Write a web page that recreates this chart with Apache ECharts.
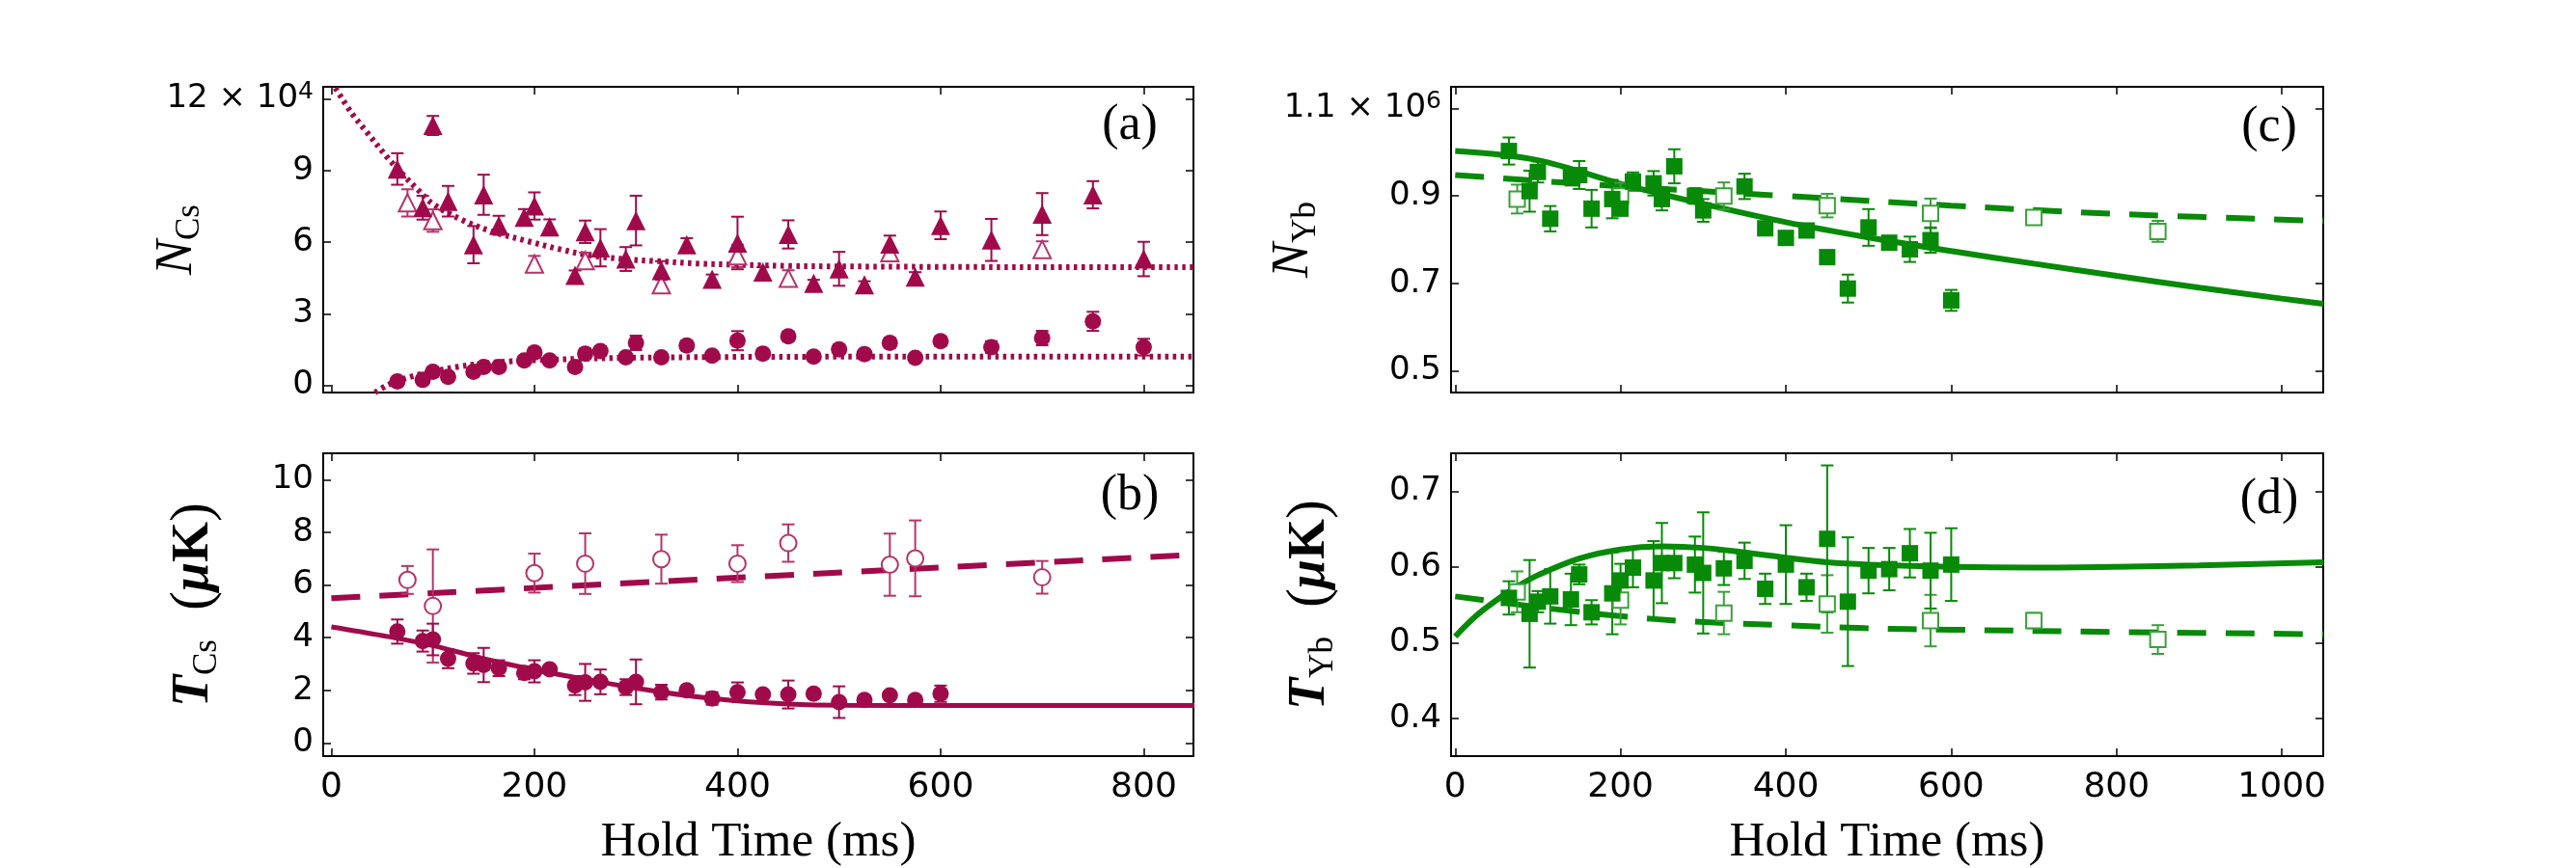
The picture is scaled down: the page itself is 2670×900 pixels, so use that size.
<!DOCTYPE html>
<html>
<head>
<meta charset="utf-8">
<script src="https://cdn.jsdelivr.net/npm/echarts@6/dist/echarts.min.js"></script>
<style>html,body{margin:0;padding:0;background:#fff}#c{width:2670px;height:900px}</style>
</head>
<body>
<div id="c"></div>
<script>
// ---------- Panel (a): Cs atom number (units of 10^4) ----------
const aTriFillX = [65,90,100,115,140,150,165,190,200,215,240,250,265,290,300,325,350,375,400,425,450,475,500,525,550,575,600,650,700,750,800];
const aTriFillY = [9.06,7.44,10.88,7.71,5.89,7.98,6.70,7.04,7.51,6.63,4.61,6.43,5.76,5.29,6.90,4.81,5.89,4.44,5.96,4.75,6.32,4.27,4.88,4.21,5.92,4.54,6.70,6.09,7.17,7.98,5.29];
const aTriFillErr = [0.66,0.5,0.4,0.64,0.78,0.84,0.4,0.34,0.57,0.32,0.2,0.47,0.78,0.5,1.04,0.39,0.27,0.2,1.1,0.2,0.59,0.15,0.71,0.15,0.35,0.2,0.58,0.88,0.88,0.57,0.72];
const aTriOpenX = [75,100,200,250,325,400,450,550,700];
const aTriOpenY = [7.64,6.90,5.08,5.22,4.21,5.42,4.48,5.55,5.69];
const aTriOpenErr = [0.57,0.47,0.34,0.34,0.34,0.47,0.34,0.2,0.34];
const aCircX = [65,90,100,115,140,150,165,190,200,215,240,250,265,290,300,325,350,375,400,425,450,475,500,525,550,575,600,650,700,750,800];
const aCircY = [0.16,0.23,0.57,0.36,0.57,0.77,0.77,1.04,1.38,1.04,0.77,1.33,1.44,1.17,1.78,1.17,1.67,1.24,1.87,1.33,2.05,1.2,1.51,1.31,1.78,1.15,1.85,1.6,1.98,2.68,1.6];
const aCircErr = [0.12,0.15,0.15,0.12,0.15,0.15,0.15,0.15,0.2,0.15,0.15,0.2,0.2,0.15,0.3,0.15,0.2,0.15,0.4,0.15,0.2,0.15,0.2,0.15,0.2,0.15,0.2,0.25,0.3,0.4,0.35];
const aFitTopX = [4,20,35,55,70,85,100,130,160,195,225,255,290,320,360,400,450,500,600,700,850];
const aFitTopY = [12.45,11.4,10.6,9.55,8.85,8.2,7.6,6.9,6.42,6.02,5.7,5.44,5.28,5.2,5.1,5.05,5.0,4.98,4.96,4.95,4.95];
const aFitLowX = [43,55,65,80,100,125,150,175,200,250,300,400,500,850];
const aFitLowY = [-0.3,0.0,0.18,0.38,0.58,0.78,0.92,1.0,1.05,1.12,1.16,1.19,1.2,1.2];

// ---------- Panel (b): Cs temperature (uK) ----------
const bCircFillX = [65,90,100,115,140,150,165,190,200,215,240,250,265,290,300,325,350,375,400,425,450,475,500,525,550,575,600];
const bCircFillY = [4.23,3.87,3.93,3.2,3.02,2.96,2.84,2.66,2.72,2.8,2.18,2.3,2.32,2.12,2.32,1.93,2.0,1.69,1.93,1.84,1.84,1.87,1.55,1.63,1.81,1.63,1.87];
const bCircFillErr = [0.46,0.4,0.6,0.36,0.39,0.65,0.3,0.24,0.42,0.15,0.36,0.7,0.47,0.3,0.85,0.28,0.15,0.24,0.37,0.15,0.53,0.15,0.6,0.15,0.15,0.15,0.31];
const bCircOpenX = [75,100,200,250,325,400,450,550,575,700];
const bCircOpenY = [6.19,5.2,6.45,6.81,6.98,6.81,7.59,6.77,7.01,6.29];
const bCircOpenErr = [0.53,2.15,0.74,1.15,0.93,0.7,0.71,1.18,1.44,0.62];
const bFitSolidX = [0,50,100,150,200,250,300,350,400,450,500,600,850];
const bFitSolidY = [4.41,4.08,3.7,3.2,2.78,2.42,2.08,1.8,1.6,1.48,1.43,1.42,1.42];
const bFitDashX = [0,850];
const bFitDashY = [5.5,7.15];

// ---------- Panel (c): Yb atom number (units of 10^6) ----------
const cSqFillX = [65,90,100,115,140,150,165,190,200,215,240,250,265,290,300,350,375,400,425,450,475,500,525,550,575,600];
const cSqFillY = [1.003,0.911,0.955,0.848,0.944,0.948,0.871,0.893,0.871,0.933,0.929,0.893,0.968,0.9,0.867,0.922,0.826,0.804,0.821,0.76,0.688,0.828,0.793,0.778,0.799,0.661];
const cSqFillErr = [0.031,0.047,0.024,0.029,0.02,0.032,0.043,0.044,0.015,0.021,0.028,0.026,0.039,0.018,0.026,0.029,0.012,0.012,0.012,0.012,0.032,0.042,0.012,0.029,0.029,0.024];
const cSqOpenX = [75,200,325,450,575,700,850];
const cSqOpenY = [0.893,0.9,0.9,0.878,0.86,0.851,0.819];
const cSqOpenErr = [0.033,0.03,0.031,0.027,0.034,0.012,0.024];
const cFitSolidX = [0,100,200,300,400,500,600,700,800,900,1000,1050];
const cFitSolidY = [1.003,0.982,0.928,0.882,0.84,0.805,0.774,0.745,0.717,0.69,0.665,0.653];
const cFitDashX = [0,200,400,600,800,1050];
const cFitDashY = [0.948,0.922,0.9,0.878,0.859,0.843];

// ---------- Panel (d): Yb temperature (uK) ----------
const dSqFillX = [65,90,100,115,140,150,165,190,200,215,240,250,265,290,300,325,350,375,400,425,450,475,500,525,550,575,600];
const dSqFillY = [0.559,0.538,0.554,0.561,0.557,0.59,0.54,0.565,0.582,0.599,0.582,0.605,0.605,0.603,0.592,0.598,0.608,0.571,0.603,0.573,0.637,0.554,0.595,0.597,0.618,0.595,0.603];
const dSqFillErr = [0.022,0.071,0.014,0.036,0.034,0.013,0.016,0.054,0.022,0.026,0.052,0.053,0.02,0.037,0.08,0.022,0.024,0.02,0.052,0.018,0.097,0.085,0.03,0.028,0.032,0.05,0.048];
const dSqOpenX = [75,200,325,450,575,700,850];
const dSqOpenY = [0.567,0.556,0.539,0.551,0.529,0.529,0.504];
const dSqOpenErr = [0.027,0.032,0.028,0.038,0.034,0.01,0.019];
const dFitSolidX = [0,25,50,75,100,150,200,250,300,350,400,450,500,600,700,800,900,1050];
const dFitSolidY = [0.508,0.535,0.556,0.574,0.589,0.611,0.623,0.627,0.625,0.619,0.612,0.606,0.603,0.6,0.599,0.6,0.602,0.606];
const dFitDashX = [0,114,199,284,400,496,600,800,1050];
const dFitDashY = [0.561,0.545,0.535,0.528,0.523,0.519,0.517,0.514,0.511];

// ---------- ticks ----------
const xTicksCs = [0,200,400,600,800];
const xTicksYb = [0,200,400,600,800,1000];
const yTicksA = [0,3,6,9,12];
const yTicksB = [0,2,4,6,8,10];
const yTicksC = [0.5,0.7,0.9,1.1];
const yTicksD = [0.4,0.5,0.6,0.7];
const panelLabels = ['(a)','(b)','(c)','(d)'];
const xTitle = 'Hold Time (ms)';

// ---------- styling ----------
const CRIM = '#A00A4B', CRIM_L = '#B5346A', GRN = '#078A07', GRN_L = '#3AA03A';
const SANS = 'DejaVu Sans', SERIF = 'Liberation Serif';
const grids = [
  {left:335, top:90, width:902, height:317},
  {left:335, top:470, width:902, height:317},
  {left:1504, top:90, width:904, height:317},
  {left:1504, top:470, width:904, height:317}
];
const xRanges = [[-8,849],[-8,849],[-5,1050],[-5,1050]];
const yRanges = [[-0.3,12.5],[-0.5,11],[0.45,1.15],[0.35,0.75]];
const xTickSets = [xTicksCs,xTicksCs,xTicksYb,xTicksYb];
const yTickSets = [yTicksA,yTicksB,yTicksC,yTicksD];

const pairs = (xs, ys) => xs.map((x,i)=>[x, ys[i]]);
const axLine = {show:true, onZero:false, lineStyle:{color:'#000', width:2}};

const xAxes = [], yAxes = [];
grids.forEach((g, gi) => {
  const showX = gi === 1 || gi === 3;
  ['bottom','top'].forEach((pos, k) => {
    xAxes.push({
      type:'value', gridIndex:gi, position:pos, min:xRanges[gi][0], max:xRanges[gi][1],
      axisLine:axLine,
      axisTick:{show:true, inside:true, length:8, customValues:xTickSets[gi], lineStyle:{color:'#000', width:1.5}},
      axisLabel:{show: showX && k===0, customValues:xTickSets[gi], margin:15, fontFamily:SANS, fontSize:36, color:'#000',
        formatter:(v)=>String(v)},
      splitLine:{show:false},
      name: (showX && k===0) ? xTitle : '', nameLocation:'middle', nameGap:64, nameMoveOverlap:false,
      nameTextStyle:{fontFamily:SERIF, fontSize:51, color:'#000'}
    });
  });
  const yNames = [
    '{i|N}{s|Cs}',
    '{ib|T}{s|Cs}{r|  (}{mu|μ}{kb|K}{r|)}',
    '{i|N}{s|Yb}',
    '{ib|T}{s|Yb}{r|  (}{mu|μ}{kb|K}{r|)}'
  ];
  const nameGaps = [121, 103, 133, 115];
  ['left','right'].forEach((pos, k) => {
    yAxes.push({
      type:'value', gridIndex:gi, position:pos, min:yRanges[gi][0], max:yRanges[gi][1],
      axisLine:axLine,
      axisTick:{show:true, inside:true, length:8, customValues:yTickSets[gi], lineStyle:{color:'#000', width:1.5}},
      axisLabel:{show:k===0, customValues:yTickSets[gi], margin:10, fontFamily:SANS, fontSize:34, color:'#000',
        formatter:(v)=>{
          if (gi===0 && v===12) return '{n|12 × 10}{sup|4}';
          if (gi===2 && v===1.1) return '{n|1.1 × 10}{sup|6}';
          return String(v);
        },
        rich:{n:{fontFamily:SANS, fontSize:34, color:'#000'}, sup:{fontFamily:SANS, fontSize:25, color:'#000', padding:[0,0,14,0]}}
      },
      splitLine:{show:false},
      name: k===0 ? yNames[gi] : '', nameLocation:'middle', nameRotate:90, nameGap:nameGaps[gi], nameMoveOverlap:false,
      nameTextStyle:{color:'#000', rich:{
        i:{fontFamily:SERIF, fontStyle:'italic', fontSize:54, color:'#000'},
        ib:{fontFamily:SERIF, fontStyle:'italic', fontWeight:'bold', fontSize:54, color:'#000'},
        s:{fontFamily:SERIF, fontSize:35, color:'#000', padding:[26,0,0,0]},
        r:{fontFamily:SERIF, fontSize:60, color:'#000'},
        mu:{fontFamily:SERIF, fontStyle:'italic', fontWeight:'bold', fontSize:54, color:'#000'},
        kb:{fontFamily:SERIF, fontWeight:'bold', fontSize:54, color:'#000'}
      }}
    });
  });
});

function errSeries(g, xs, ys, es, color) {
  return {
    type:'custom', xAxisIndex:2*g, yAxisIndex:2*g, silent:true, z:3,
    data: xs.map((x,i)=>[x, ys[i]-es[i], ys[i]+es[i]]),
    encode:{x:0, y:[1,2]},
    renderItem:(params, api)=>{
      const lo = api.coord([api.value(0), api.value(1)]);
      const hi = api.coord([api.value(0), api.value(2)]);
      const cw = 6.5;
      const st = {stroke:color, lineWidth:2};
      return {type:'group', children:[
        {type:'line', shape:{x1:lo[0], y1:lo[1], x2:hi[0], y2:hi[1]}, style:st},
        {type:'line', shape:{x1:lo[0]-cw, y1:lo[1], x2:lo[0]+cw, y2:lo[1]}, style:st},
        {type:'line', shape:{x1:hi[0]-cw, y1:hi[1], x2:hi[0]+cw, y2:hi[1]}, style:st}
      ]};
    }
  };
}
function scat(g, xs, ys, symbol, size, color, open) {
  return {
    type:'scatter', xAxisIndex:2*g, yAxisIndex:2*g, symbol, symbolSize:size, z:4, silent:true,
    data:pairs(xs, ys),
    itemStyle: open ? {color:'#fff', borderColor:color, borderWidth:2, opacity:1} : {color:color, opacity:1}
  };
}
function fit(g, xs, ys, color, width, dash) {
  return {
    type:'line', xAxisIndex:2*g, yAxisIndex:2*g, data:pairs(xs, ys), symbol:'none', smooth:0.35,
    clip:true, z:2, silent:true,
    lineStyle:{color, width, type:dash, cap:'butt'}
  };
}

const series = [
  // (a)
  fit(0, aFitTopX, aFitTopY, CRIM, 6, [3.5,4.5]),
  fit(0, aFitLowX, aFitLowY, CRIM, 6, [3.5,4.5]),
  errSeries(0, aTriOpenX, aTriOpenY, aTriOpenErr, CRIM_L),
  scat(0, aTriOpenX, aTriOpenY, 'triangle', 18, CRIM_L, true),
  errSeries(0, aTriFillX, aTriFillY, aTriFillErr, CRIM),
  scat(0, aTriFillX, aTriFillY, 'triangle', 20, CRIM, false),
  errSeries(0, aCircX, aCircY, aCircErr, CRIM),
  scat(0, aCircX, aCircY, 'circle', 17, CRIM, false),
  // (b)
  fit(1, bFitDashX, bFitDashY, CRIM, 6, [30,20]),
  fit(1, bFitSolidX, bFitSolidY, CRIM, 5, 'solid'),
  errSeries(1, bCircOpenX, bCircOpenY, bCircOpenErr, CRIM_L),
  scat(1, bCircOpenX, bCircOpenY, 'circle', 17, CRIM_L, true),
  errSeries(1, bCircFillX, bCircFillY, bCircFillErr, CRIM),
  scat(1, bCircFillX, bCircFillY, 'circle', 17, CRIM, false),
  // (c)
  fit(2, cFitDashX, cFitDashY, GRN, 6, [30,20]),
  fit(2, cFitSolidX, cFitSolidY, GRN, 6, 'solid'),
  errSeries(2, cSqOpenX, cSqOpenY, cSqOpenErr, GRN_L),
  scat(2, cSqOpenX, cSqOpenY, 'rect', 16, GRN_L, true),
  errSeries(2, cSqFillX, cSqFillY, cSqFillErr, GRN),
  scat(2, cSqFillX, cSqFillY, 'rect', 17, GRN, false),
  // (d)
  fit(3, dFitDashX, dFitDashY, GRN, 6, [30,20]),
  fit(3, dFitSolidX, dFitSolidY, GRN, 6, 'solid'),
  errSeries(3, dSqOpenX, dSqOpenY, dSqOpenErr, GRN_L),
  scat(3, dSqOpenX, dSqOpenY, 'rect', 16, GRN_L, true),
  errSeries(3, dSqFillX, dSqFillY, dSqFillErr, GRN),
  scat(3, dSqFillX, dSqFillY, 'rect', 17, GRN, false)
];

const labelPos = [[1171,130],[1171,514],[2352,132],[2352,518]];
const graphic = panelLabels.map((t,i)=>({
  type:'text', x:labelPos[i][0], y:labelPos[i][1], z:10,
  style:{text:t, fontFamily:SERIF, fontSize:52, fill:'#000', align:'center', verticalAlign:'middle'}
}));

const chart = echarts.init(document.getElementById('c'), null, {renderer:'canvas', width:2670, height:900});
chart.setOption({
  backgroundColor:'#fff', animation:false,
  grid: grids.map(g=>Object.assign({containLabel:false}, g)),
  xAxis:xAxes, yAxis:yAxes, series, graphic
});
</script>
</body>
</html>
